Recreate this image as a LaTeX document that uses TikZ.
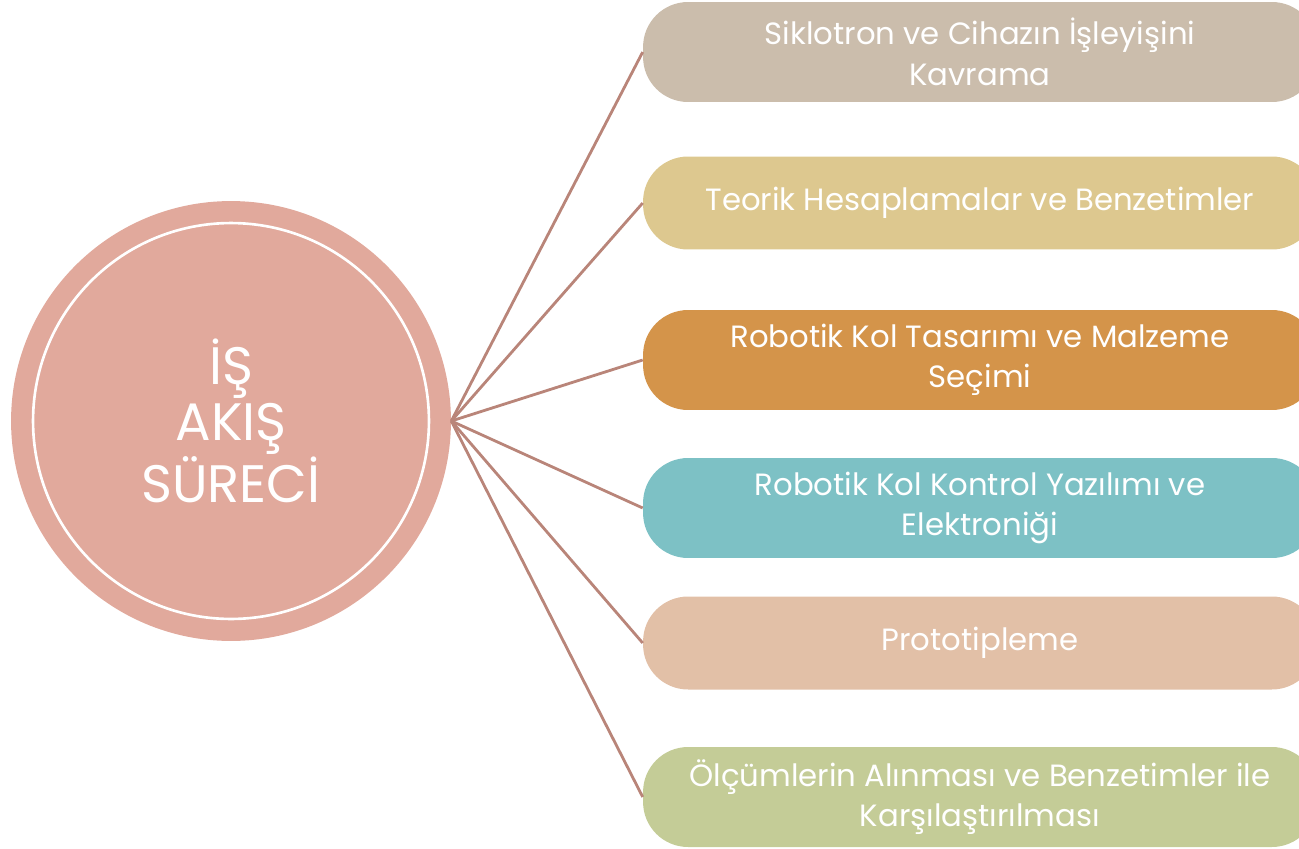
\documentclass[tikz,border=0pt]{standalone}
\usepackage{fontspec}
\setmainfont{Poppins}
\usepackage{tikz}
\usetikzlibrary{positioning}
\usepackage{xcolor}
\definecolor{hubfill}{HTML}{E1A99C}
\definecolor{spoke}{HTML}{B98579}
\definecolor{cA}{HTML}{CBBDAC}
\definecolor{cB}{HTML}{DDC88F}
\definecolor{cC}{HTML}{D4944A}
\definecolor{cD}{HTML}{7DC1C5}
\definecolor{cE}{HTML}{E2C0A7}
\definecolor{cF}{HTML}{C4CC97}

\begin{document}
\begin{tikzpicture}[x=0.02cm,y=-0.02cm,
    hub/.style={circle,fill=hubfill,minimum size=8.8cm,inner sep=0pt,text=white,align=center,
        font=\fontsize{30}{32}\selectfont},
    stepbox/.style={rectangle,rounded corners=0.9cm,minimum width=13.48cm,minimum height=2cm,
        inner sep=0pt,text=white,align=center,font=\fontsize{17.5}{23}\selectfont},
    spokeline/.style={draw=spoke,line width=1.6pt}]
    \clip (0,0) rectangle (1299,849);
    \node[hub] (q0) at (231,421) {İŞ\\AKIŞ\\SÜRECİ};
    \draw[white,line width=1.5pt] (q0.center) circle (3.96cm);
    \node[stepbox,fill=cA] (q1) at (980,52) {Siklotron ve Cihazın İşleyişini\\Kavrama};
    \node[stepbox,fill=cB,minimum height=1.86cm] (q2) at (980,203) {Teorik Hesaplamalar ve Benzetimler};
    \node[stepbox,fill=cC] (q3) at (980,360) {Robotik Kol Tasarımı ve Malzeme\\Seçimi};
    \node[stepbox,fill=cD] (q4) at (980,508) {Robotik Kol Kontrol Yazılımı ve\\Elektroniği};
    \node[stepbox,fill=cE,minimum height=1.86cm] (q5) at (980,643) {Prototipleme};
    \node[stepbox,fill=cF] (q6) at (980,797) {Ölçümlerin Alınması ve Benzetimler ile\\Karşılaştırılması};
    \foreach \s in {q1,q2,q3,q4,q5,q6}
        \path[spokeline] (q0.east) edge (\s.west);
\end{tikzpicture}
\end{document}
